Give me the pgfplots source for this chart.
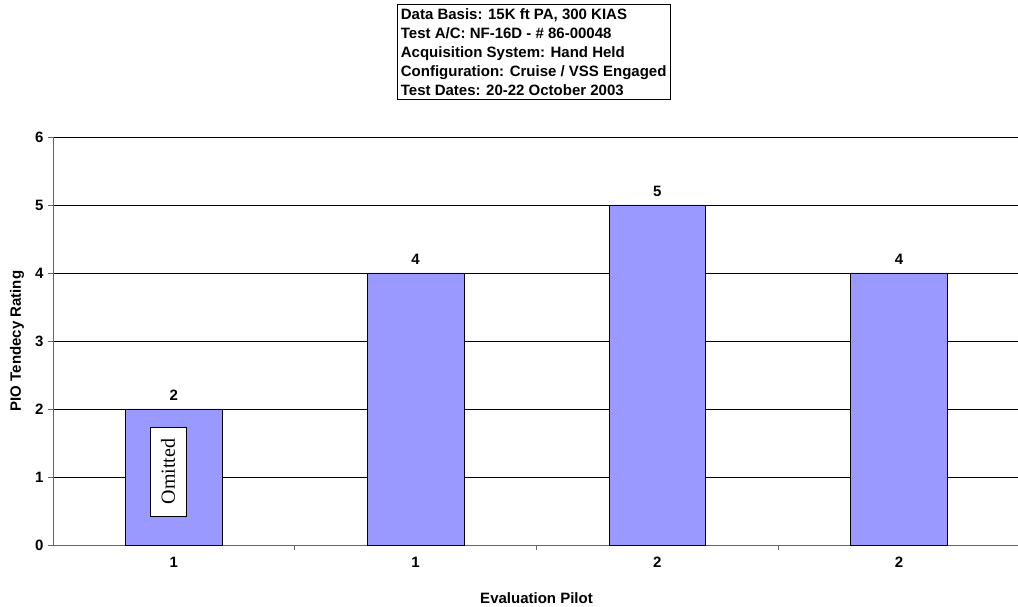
\documentclass[border=0pt]{standalone}
\usepackage{pgfplots}
\pgfplotsset{compat=1.18}
\usepackage{fontspec}
\setmainfont{Liberation Sans}
\newfontfamily\seriffont{Liberation Serif}
\definecolor{barblue}{HTML}{9999FF}
\begin{document}
\begin{tikzpicture}
\path[use as bounding box] (0pt,0pt) rectangle (1018pt,607pt);
\node[draw, line width=0.8pt, align=left, font=\bfseries\fontsize{15}{19}\selectfont, inner xsep=3.5pt, inner ysep=4pt, anchor=north west] at (397pt,603pt) {Data Basis: 15K ft PA, 300 KIAS\\Test A/C: NF-16D - \# 86-00048\\Acquisition System: Hand Held\\Configuration: Cruise / VSS Engaged\\Test Dates: 20-22 October 2003};
\begin{axis}[
  at={(53pt,62pt)}, anchor=south west, scale only axis,
  width=967pt, height=408pt,
  xmin=-0.5, xmax=3.5, ymin=0, ymax=6,
  clip=false,
  ybar, bar width=0.4,
  axis x line=bottom, axis y line=left,
  axis line style={-, draw=black!60, line width=0.8pt},
  xtick={0,1,2,3}, xticklabels={1,1,2,2},
  xtick style={draw=none},
  ytick={0,1,2,3,4,5,6},
  ytick style={draw=black!60, line width=0.8pt},
  tick align=outside, major tick length=5pt,
  ymajorgrids, grid style={black, line width=0.7pt},
  tick label style={font=\bfseries\fontsize{15}{18}\selectfont},
  /pgf/number format/assume math mode=true,
  xticklabel style={anchor=center, yshift=-12pt},
  yticklabel style={anchor=east, xshift=-1pt},
  every axis y label/.style={at={(axis description cs:0,0.5)}, xshift=-36pt, rotate=90, anchor=center, font=\bfseries\fontsize{15}{18}\selectfont},
  every axis x label/.style={at={(axis description cs:0.5,0)}, yshift=-53pt, anchor=center, font=\bfseries\fontsize{15}{18}\selectfont},
  ylabel={PIO Tendecy Rating},
  xlabel={Evaluation Pilot},
  nodes near coords,
  every node near coord/.append style={font=\bfseries\fontsize{15}{18}\selectfont, yshift=5pt, /pgf/number format/assume math mode=true},
]
\addplot[fill=barblue, draw=black, line width=0.9pt] coordinates {(0,2) (1,4) (2,5) (3,4)};
\draw[black!60, line width=0.8pt] (axis cs:0.5,0) -- ([yshift=-5pt]axis cs:0.5,0);
\draw[black!60, line width=0.8pt] (axis cs:1.5,0) -- ([yshift=-5pt]axis cs:1.5,0);
\draw[black!60, line width=0.8pt] (axis cs:2.5,0) -- ([yshift=-5pt]axis cs:2.5,0);
\node[draw, fill=white, line width=1pt, rotate=90, font=\seriffont\fontsize{20}{20}\selectfont, minimum width=89pt, minimum height=36pt, inner sep=0pt] at (axis cs:-0.024,1.08) {Omitted};
\end{axis}
\end{tikzpicture}
\end{document}
